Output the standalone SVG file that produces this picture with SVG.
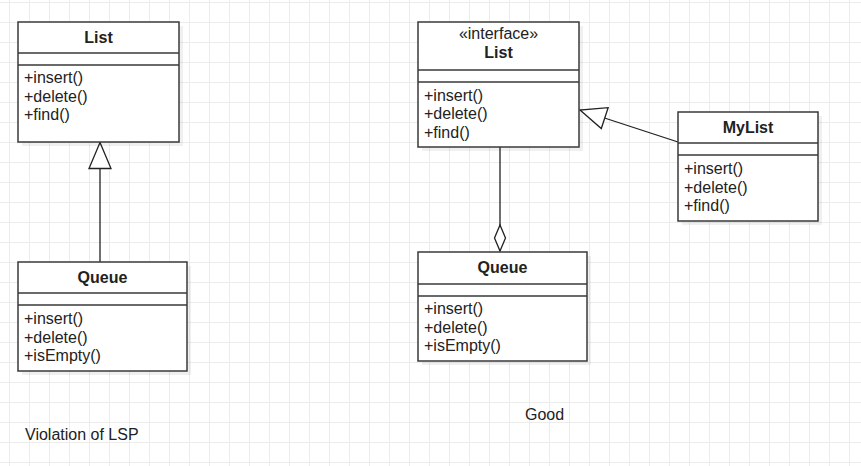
<svg xmlns="http://www.w3.org/2000/svg" width="861" height="466" viewBox="0 0 861 466">
<style>
.box{fill:#fff;stroke:#3a3a3a;stroke-width:1.5}
.shadow{fill:#000;fill-opacity:0.06}
.sep{stroke:#3a3a3a;stroke-width:1.5;fill:none}
.t{font-family:"Liberation Sans",Arial,sans-serif;font-size:16px;fill:#222}
.b{font-weight:bold;text-anchor:middle}
.c{text-anchor:middle}
.edge{stroke:#222;stroke-width:1.3;fill:none}
</style>
<defs>
<pattern id="grid" x="9" y="2" width="20" height="20" patternUnits="userSpaceOnUse">
<path d="M0.5 0 V20 M0 0.5 H20" stroke="#ececec" stroke-width="1" fill="none"/>
</pattern>
<marker id="tri" markerUnits="userSpaceOnUse" orient="auto" refX="0" refY="0" markerWidth="40" markerHeight="40" overflow="visible">
<path d="M0,0 L-26,-11 L-26,11 Z" fill="#fff" stroke="#222" stroke-width="1.3" stroke-linejoin="miter"/>
</marker>
<marker id="dia" markerUnits="userSpaceOnUse" orient="auto" refX="0" refY="0" markerWidth="40" markerHeight="40" overflow="visible">
<path d="M0,0 L-13,-5.5 L-26,0 L-13,5.5 Z" fill="#fff" stroke="#222" stroke-width="1.3"/>
</marker>
</defs>
<rect width="861" height="466" fill="#fff"/>
<rect width="861" height="466" fill="url(#grid)"/>

<g id="connectors">
<path class="edge" d="M100,262 L100,142.5" marker-end="url(#tri)"/>
<path class="edge" d="M678,142 L580,110" marker-end="url(#tri)"/>
<path class="edge" d="M500,147 L500,251" marker-end="url(#dia)"/>
</g>

<g id="list-left">
<rect class="shadow" x="22" y="26" width="161" height="120"/>
<rect class="box" x="18" y="22" width="161" height="120"/>
<path class="sep" d="M18,53 H179 M18,65 H179"/>
<text class="t b" x="98.5" y="43">List</text>
<text class="t" x="24" y="83">+insert()</text>
<text class="t" x="24" y="101.5">+delete()</text>
<text class="t" x="24" y="120">+find()</text>
</g>

<g id="queue-left">
<rect class="shadow" x="22" y="266" width="169" height="109"/>
<rect class="box" x="18" y="262" width="169" height="109"/>
<path class="sep" d="M18,293 H187 M18,305 H187"/>
<text class="t b" x="102.5" y="283">Queue</text>
<text class="t" x="24" y="324">+insert()</text>
<text class="t" x="24" y="342.5">+delete()</text>
<text class="t" x="24" y="361">+isEmpty()</text>
</g>

<g id="list-interface">
<rect class="shadow" x="422" y="26" width="161" height="125"/>
<rect class="box" x="418" y="22" width="161" height="125"/>
<path class="sep" d="M418,70 H579 M418,82 H579"/>
<text class="t c" x="498.5" y="39">«interface»</text>
<text class="t b" x="498.5" y="58">List</text>
<text class="t" x="424" y="100.5">+insert()</text>
<text class="t" x="424" y="119">+delete()</text>
<text class="t" x="424" y="137.5">+find()</text>
</g>

<g id="mylist">
<rect class="shadow" x="682" y="116" width="140" height="109"/>
<rect class="box" x="678" y="112" width="140" height="109"/>
<path class="sep" d="M678,143 H818 M678,155 H818"/>
<text class="t b" x="748" y="133">MyList</text>
<text class="t" x="684" y="174">+insert()</text>
<text class="t" x="684" y="192.5">+delete()</text>
<text class="t" x="684" y="211">+find()</text>
</g>

<g id="queue-right">
<rect class="shadow" x="422" y="256" width="169" height="109"/>
<rect class="box" x="418" y="252" width="169" height="109"/>
<path class="sep" d="M418,284 H587 M418,296 H587"/>
<text class="t b" x="502.5" y="273">Queue</text>
<text class="t" x="424" y="314">+insert()</text>
<text class="t" x="424" y="332.5">+delete()</text>
<text class="t" x="424" y="351">+isEmpty()</text>
</g>

<g id="label-violation">
<text class="t" x="25" y="440">Violation of LSP</text>
</g>
<g id="label-good">
<text class="t" x="525" y="420">Good</text>
</g>
</svg>
